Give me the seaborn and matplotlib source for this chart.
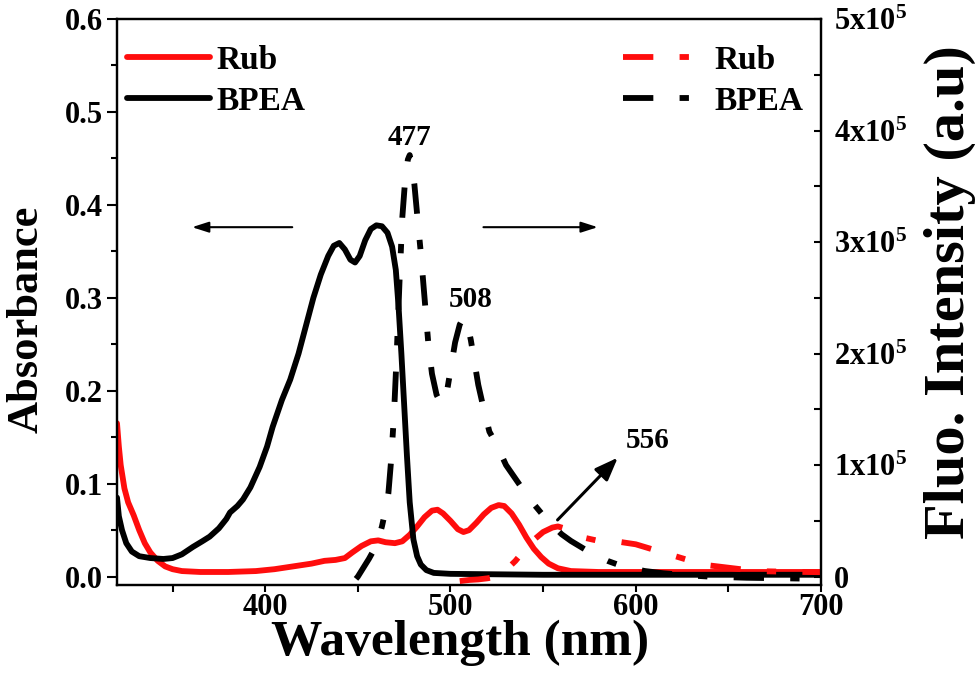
import numpy as np
import pandas as pd
import matplotlib
matplotlib.use("Agg")
import matplotlib.pyplot as plt
import seaborn as sns

# absorbance (left axis)
rub_abs_wl = [320, 321, 322, 324, 326, 329, 332, 335, 338, 342, 346, 350, 355, 365, 380, 395,
              405, 415, 425, 432, 438, 443, 447, 452, 457, 461, 465, 470, 474, 478, 482, 486,
              490, 493, 496, 500, 504, 507, 510, 514, 518, 522, 526, 529, 533, 537, 541, 545,
              549, 553, 558, 565, 580, 600, 650, 700]
rub_abs = [0.165, 0.14, 0.12, 0.095, 0.08, 0.066, 0.05, 0.036, 0.026, 0.017, 0.011, 0.008, 0.006,
           0.005, 0.005, 0.006, 0.008, 0.011, 0.014, 0.017, 0.018, 0.02, 0.026, 0.033, 0.038, 0.039,
           0.037, 0.036, 0.038, 0.045, 0.054, 0.064, 0.071, 0.072, 0.068, 0.06, 0.051, 0.048, 0.05,
           0.058, 0.067, 0.074, 0.077, 0.076, 0.068, 0.056, 0.042, 0.03, 0.021, 0.014, 0.009, 0.006,
           0.005, 0.005, 0.005, 0.005]

bpea_abs_wl = [320, 321, 322.7, 325, 328, 332, 338, 345, 350, 355, 361, 366, 370, 375, 379, 381,
               385, 388, 392, 397, 401, 404, 409, 413.5, 418, 422, 426, 430, 434, 437, 440, 443,
               446, 448.5, 451, 454, 457, 460, 463, 466, 468.5, 470.5, 472, 473.5, 475, 476.5,
               478, 480, 482, 484, 487, 491, 500, 550, 600, 700]
bpea_abs = [0.085, 0.065, 0.05, 0.036, 0.027, 0.022, 0.02, 0.019, 0.02, 0.024, 0.032, 0.038, 0.043,
            0.052, 0.062, 0.069, 0.076, 0.083, 0.096, 0.118, 0.14, 0.161, 0.19, 0.212, 0.24, 0.27,
            0.3, 0.325, 0.345, 0.356, 0.359, 0.352, 0.341, 0.338, 0.345, 0.362, 0.374, 0.378, 0.377,
            0.37, 0.355, 0.33, 0.29, 0.24, 0.185, 0.13, 0.08, 0.04, 0.022, 0.013, 0.007, 0.004,
            0.003, 0.002, 0.002, 0.002]

# fluorescence (right axis)
bpea_fl_wl = [449, 450, 453, 456, 459, 461, 463, 465, 466.5, 468, 469.5, 471, 472.5, 474, 475.5,
              477, 478, 479, 480.5, 482, 484, 486, 488, 490, 492.5, 495, 497.5, 500, 502.5, 505,
              507, 509, 511, 513, 515, 518, 521, 525, 530, 535, 540, 545, 550, 555, 560, 565, 570,
              575, 580, 585, 590, 596, 605, 615, 630, 640, 660, 680, 700]
bpea_fl = [-2000, 0, 8000, 16000, 25000, 33000, 45000, 60000, 75000, 105000, 145000, 200000, 265000,
           322000, 355000, 374000, 378000, 370000, 352000, 325000, 290000, 250000, 210000, 182000,
           163000, 155000, 160000, 185000, 210000, 226000, 232000, 228000, 212000, 192000, 172000,
           150000, 130000, 118000, 100000, 88000, 76000, 65000, 55000, 46000, 38000, 32000, 27000,
           22000, 18000, 14000, 11000, 8000, 5000, 3000, 1000, 0, -1000, -1500, -2000]

rub_fl_wl = [505, 510, 515, 520, 525, 530, 535, 540, 545, 550, 555, 558, 562, 566, 572, 580, 590,
             600, 610, 620, 630, 640, 650, 660, 670, 685, 700]
rub_fl = [-4000, -3000, -2500, -1500, 0, 6000, 14000, 24000, 33000, 40000, 44000, 45000, 43000,
          39000, 35000, 32000, 31500, 29000, 24000, 19000, 14000, 10000, 8000, 6000, 4800, 4300, 4000]

fl_ticks = [0, 1e5, 2e5, 3e5, 4e5, 5e5]
fl_tick_labels = ["0", "1x10$^5$", "2x10$^5$", "3x10$^5$", "4x10$^5$", "5x10$^5$"]

sns.set_style("ticks")
plt.rcParams["font.family"] = ["Liberation Serif", "DejaVu Serif"]
plt.rcParams["font.weight"] = "bold"
plt.rcParams["mathtext.fontset"] = "custom"
plt.rcParams["mathtext.rm"] = "Liberation Serif:bold"
plt.rcParams["mathtext.bf"] = "Liberation Serif:bold"
plt.rcParams["mathtext.it"] = "Liberation Serif:bold:italic"
plt.rcParams["mathtext.default"] = "rm"
for k in ["text.color", "axes.labelcolor", "xtick.color", "ytick.color", "axes.edgecolor"]:
    plt.rcParams[k] = "black"

fig = plt.figure(figsize=(9.75, 6.88), dpi=100)
ax = fig.add_axes([117 / 975, 1 - 585 / 688, 704 / 975, 566 / 688])
ax2 = ax.twinx()

red = "#ff0d0d"
dashdot = (0, (5.2, 4.5, 1.6, 4.5))
lw = 4.2

sns.lineplot(x=rub_abs_wl, y=rub_abs, ax=ax, color=red, lw=lw, label="Rub")
sns.lineplot(x=bpea_abs_wl, y=bpea_abs, ax=ax, color="black", lw=lw, label="BPEA")
sns.lineplot(x=rub_fl_wl, y=rub_fl, ax=ax2, color=red, lw=lw, linestyle=dashdot, label="Rub")
sns.lineplot(x=bpea_fl_wl, y=bpea_fl, ax=ax2, color="black", lw=lw, linestyle=dashdot, label="BPEA")

ax.set_xlim(320, 700)
ax.set_ylim(-0.009, 0.6)
ax2.set_ylim(-7500, 5e5)

ax.set_xticks([400, 500, 600, 700])
ax.set_xticks([350, 450, 550, 650], minor=True)
ax.set_yticks(np.arange(0, 0.61, 0.1))
ax.set_yticklabels(["0.0", "0.1", "0.2", "0.3", "0.4", "0.5", "0.6"])
ax.set_yticks(np.arange(0.05, 0.6, 0.1), minor=True)
ax2.set_yticks(fl_ticks)
ax2.set_yticklabels(fl_tick_labels)
ax2.set_yticks(np.arange(5e4, 5e5, 1e5), minor=True)

ax.tick_params(axis="both", which="both", direction="out", width=1.5, labelsize=22, pad=3)
ax.tick_params(axis="y", which="major", length=7)
ax.tick_params(axis="y", which="minor", length=4)
ax.tick_params(axis="x", which="both", length=5, pad=1)
ax2.tick_params(axis="y", which="both", direction="in", width=1.5, length=5, labelsize=22, pad=9)

for a in (ax, ax2):
    for s in a.spines.values():
        s.set_visible(True)
        s.set_linewidth(1.6)
        s.set_color("black")

ax.set_xlabel("Wavelength (nm)", fontsize=37, fontweight="bold")
ax.xaxis.set_label_coords(0.487, -0.062)
ax.set_ylabel("Absorbance", fontsize=32, fontweight="bold")
ax.yaxis.set_label_coords(-0.1, 0.47)
ax2.set_ylabel("Fluo. Intensity (a.u)", fontsize=42, fontweight="bold")
ax2.yaxis.set_label_coords(1.146, 0.518)

h1, l1 = ax.get_legend_handles_labels()
ax.legend(h1, l1, loc="upper left", bbox_to_anchor=(0.014, 0.954), frameon=False,
          fontsize=24, handlelength=2.5, handletextpad=0.2, labelspacing=0.3, borderpad=0,
          borderaxespad=0)
h2, l2 = ax2.get_legend_handles_labels()
ax2.legend(h2, l2, loc="upper left", bbox_to_anchor=(0.719, 0.954), frameon=False,
           fontsize=24, handlelength=2.0, handletextpad=0.75, labelspacing=0.3, borderpad=0,
           borderaxespad=0)

# peak labels and arrows
ax.text(477.7, 0.473, "477", fontsize=21, fontweight="bold", ha="center", va="center")
ax.text(511, 0.298, "508", fontsize=21, fontweight="bold", ha="center", va="center")
ax.text(606.5, 0.146, "556", fontsize=21, fontweight="bold", ha="center", va="center")

thin = dict(arrowstyle="-|>,head_length=0.5,head_width=0.16", color="black", lw=1.5,
            mutation_scale=20, shrinkA=0, shrinkB=0)
ax.annotate("", xy=(360.5, 0.376), xytext=(414.6, 0.376), arrowprops=thin)
ax.annotate("", xy=(579.5, 0.376), xytext=(517.8, 0.376), arrowprops=thin)
thick = dict(arrowstyle="-|>,head_length=0.7,head_width=0.27", color="black", lw=2.2,
             mutation_scale=20, shrinkA=0, shrinkB=0)
ax.annotate("", xy=(590.3, 0.128), xytext=(557.8, 0.061), arrowprops=thick)

fig.savefig("out.png", dpi=100)
